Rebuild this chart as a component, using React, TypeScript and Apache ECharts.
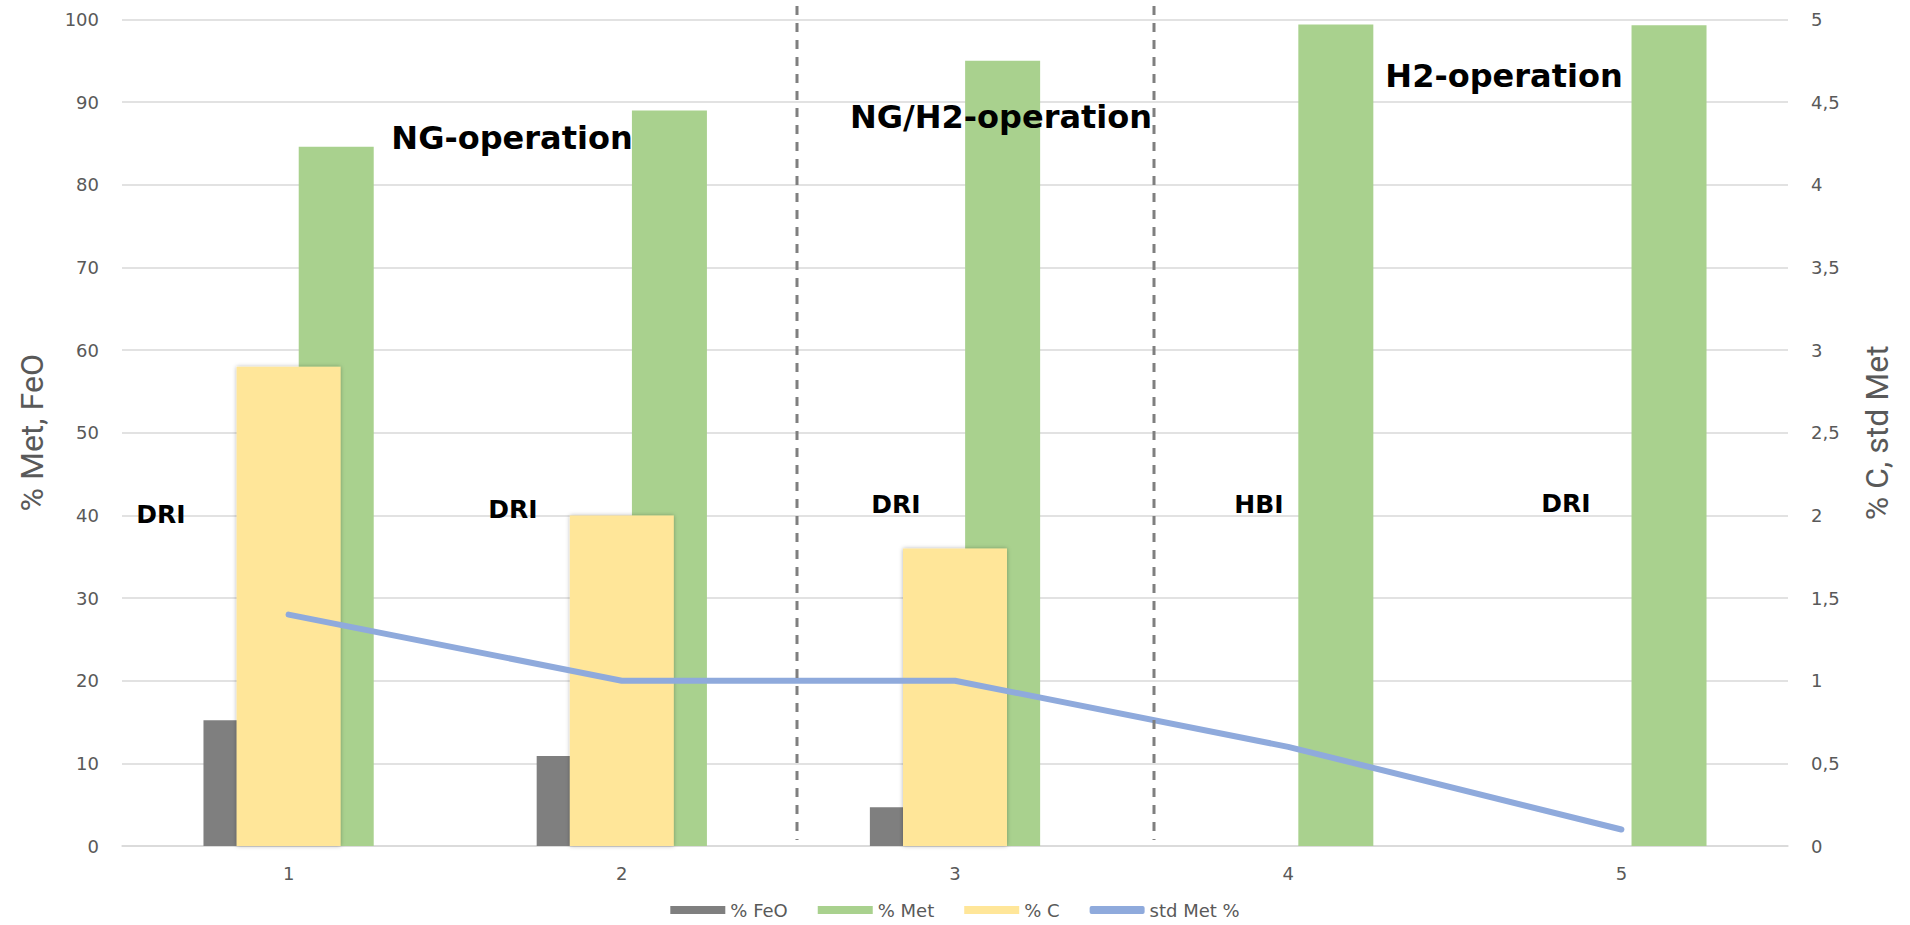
import React, { useEffect, useRef } from "react";
import * as echarts from "echarts";

const categories = ["1", "2", "3", "4", "5"];
const feo = [15.2, 10.9, 4.7, null, null];
const met = [84.6, 89.0, 95.0, 99.4, 99.3];
const carbon = [2.9, 2.0, 1.8, null, null];
const stdMet = [1.4, 1.0, 1.0, 0.6, 0.1];
const seriesNames = ["% FeO", "% Met", "% C", "std Met %"];
const phaseLabels = ["NG-operation", "NG/H2-operation", "H2-operation"];
const productLabels = ["DRI", "DRI", "DRI", "HBI", "DRI"];

const phasePos = [
  [512, 138],
  [1001, 117],
  [1504, 76],
];
const productPos = [
  [161, 514],
  [513, 509],
  [896, 504],
  [1259, 504],
  [1566, 503],
];
const dividerX = [797, 1154];

export default function App() {
  const ref = useRef<HTMLDivElement>(null);
  useEffect(() => {
    document.body.style.margin = "0";
    const chart = echarts.init(ref.current!, undefined, { renderer: "svg" });
    const axisFont = { color: "#595959", fontSize: 18, fontFamily: "DejaVu Sans" };
    const graphics: any[] = [];
    dividerX.forEach((x) =>
      graphics.push({
        type: "line",
        z: 90,
        shape: { x1: x, y1: 6, x2: x, y2: 840 },
        style: { stroke: "#7f7f7f", lineWidth: 3, lineDash: [9, 8] },
      })
    );
    phaseLabels.forEach((t, i) =>
      graphics.push({
        type: "text",
        z: 100,
        x: phasePos[i][0],
        y: phasePos[i][1],
        style: {
          text: t,
          font: 'bold 32px "DejaVu Sans"',
          fill: "#000",
          align: "center",
          verticalAlign: "middle",
        },
      })
    );
    productLabels.forEach((t, i) =>
      graphics.push({
        type: "text",
        z: 100,
        x: productPos[i][0],
        y: productPos[i][1],
        style: {
          text: t,
          font: 'bold 25px "DejaVu Sans"',
          fill: "#000",
          align: "center",
          verticalAlign: "middle",
        },
      })
    );
    chart.setOption({
      animation: false,
      backgroundColor: "#fff",
      grid: { left: 122, right: 122, top: 19.5, bottom: 79, containLabel: false },
      legend: {
        top: 896,
        left: "center",
        itemWidth: 55,
        itemHeight: 8,
        itemGap: 30,
        textStyle: { color: "#595959", fontSize: 18, fontFamily: "DejaVu Sans" },
        data: [
          { name: seriesNames[0], icon: "rect" },
          { name: seriesNames[1], icon: "rect" },
          { name: seriesNames[2], icon: "rect" },
          { name: seriesNames[3], icon: "roundRect" },
        ],
      },
      xAxis: [
        {
          type: "category",
          data: categories,
          axisLine: { lineStyle: { color: "#d9d9d9", width: 1.5 } },
          axisTick: { show: false },
          axisLabel: { ...axisFont, margin: 18 },
        },
        {
          type: "category",
          data: categories,
          show: false,
        },
      ],
      yAxis: [
        {
          type: "value",
          min: 0,
          max: 100,
          interval: 10,
          name: "% Met, FeO",
          nameLocation: "middle",
          nameRotate: 90,
          nameGap: 74,
          nameTextStyle: { color: "#595959", fontSize: 32, fontFamily: "Roboto" },
          axisLine: { show: false },
          axisTick: { show: false },
          axisLabel: { ...axisFont, margin: 23 },
          splitLine: { lineStyle: { color: "#d9d9d9", width: 1.5 } },
        },
        {
          type: "value",
          min: 0,
          max: 5,
          interval: 0.5,
          name: "% C, std Met",
          nameLocation: "middle",
          nameRotate: 90,
          nameGap: 73,
          nameTextStyle: { color: "#595959", fontSize: 32, fontFamily: "Roboto" },
          axisLine: { show: false },
          axisTick: { show: false },
          axisLabel: {
            ...axisFont,
            margin: 23,
            formatter: (v: number) => String(v).replace(".", ","),
          },
          splitLine: { show: false },
        },
      ],
      series: [
        {
          name: seriesNames[0],
          type: "bar",
          xAxisIndex: 0,
          yAxisIndex: 0,
          data: feo,
          barWidth: 75,
          barGap: "27%",
          itemStyle: { color: "#7f7f7f" },
          z: 2,
        },
        {
          name: seriesNames[1],
          type: "bar",
          xAxisIndex: 0,
          yAxisIndex: 0,
          data: met,
          barWidth: 75,
          barGap: "27%",
          itemStyle: { color: "#a9d18e" },
          z: 2,
        },
        {
          name: seriesNames[2],
          type: "bar",
          xAxisIndex: 1,
          yAxisIndex: 1,
          data: carbon,
          barWidth: 104,
          itemStyle: {
            color: "#ffe699",
            shadowColor: "rgba(0,0,0,0.3)",
            shadowBlur: 4,
          },
          z: 3,
        },
        {
          name: seriesNames[3],
          type: "line",
          xAxisIndex: 0,
          yAxisIndex: 1,
          data: stdMet,
          symbol: "none",
          lineStyle: { color: "#8faadc", width: 6, cap: "round" },
          itemStyle: { color: "#8faadc" },
          z: 4,
        },
      ],
      graphic: graphics,
    });
    return () => chart.dispose();
  }, []);
  return <div ref={ref} style={{ width: 1910, height: 925 }} />;
}
